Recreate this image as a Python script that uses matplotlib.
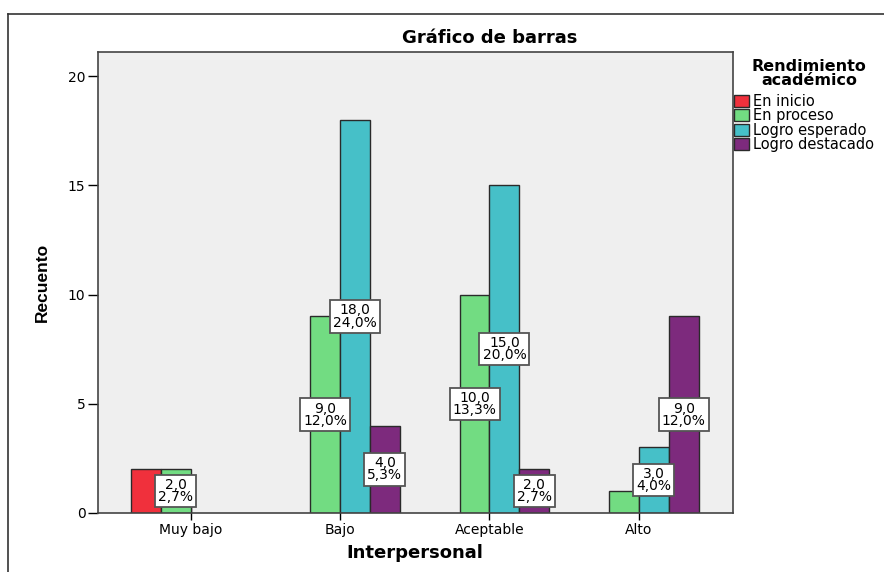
import numpy as np
import matplotlib
matplotlib.use("Agg")
from matplotlib import pyplot as plt
from matplotlib.lines import Line2D

plt.rcParams["font.family"] = ["DejaVu Sans"]

categorias = ["Muy bajo", "Bajo", "Aceptable", "Alto"]
series = ["En inicio", "En proceso", "Logro esperado", "Logro destacado"]
en_inicio = [2, 0, 0, 0]
en_proceso = [2, 9, 10, 1]
logro_esperado = [0, 18, 15, 3]
logro_destacado = [0, 4, 2, 9]
valores = [en_inicio, en_proceso, logro_esperado, logro_destacado]
# which bars get a value box (series index, category index)
etiquetadas = [(1, 0), (1, 1), (2, 1), (3, 1), (1, 2), (2, 2), (3, 2), (2, 3), (3, 3)]
colores = ["#F0303C", "#72DC82", "#46C0C8", "#7D2A7D"]

total = sum(sum(v) for v in valores)

fig = plt.figure(figsize=(8.84, 5.72), dpi=100)
ax = fig.add_axes([98 / 884, 1 - 513 / 572, 635 / 884, 461 / 572])
ax.set_facecolor("#EFEFEF")

x = np.arange(len(categorias))
w = 0.2
offs = [-0.3, -0.1, 0.1, 0.3]
for i, s in enumerate(series):
    v = np.array(valores[i])
    mask = v > 0
    ax.bar(x[mask] + offs[i], v[mask], width=w, color=colores[i],
           edgecolor="#2A2A2A", linewidth=1.0, label=s, zorder=2)

for i, j in etiquetadas:
    v = valores[i][j]
    txt = "{:.1f}\n{:.1f}%".format(v, 100 * v / total).replace(".", ",")
    ax.text(x[j] + offs[i], v / 2, txt, ha="center", va="center", fontsize=10,
            linespacing=0.85, zorder=4,
            bbox=dict(boxstyle="square,pad=0.22", fc="white", ec="#555555", lw=1.3))

ax.set_xlim(-0.62, 3.63)
ax.set_ylim(0, 21.1)
ax.set_yticks([0, 5, 10, 15, 20])
ax.set_xticks(x)
ax.set_xticklabels(categorias)
ax.tick_params(axis="y", direction="out", length=7, width=1, labelsize=10, pad=2)
ax.tick_params(axis="x", direction="inout", length=10, width=1, labelsize=10, pad=2)
for sp in ax.spines.values():
    sp.set_color("#444444")
    sp.set_linewidth(1.2)

fig.text(415 / 884, 1 - 553 / 572, "Interpersonal", ha="center", va="center",
         fontsize=13, fontweight="bold")
fig.text(42 / 884, 1 - 282 / 572, "Recuento", ha="center", va="center", rotation=90,
         fontsize=12.5, fontweight="bold", family=["Liberation Sans", "DejaVu Sans"])
fig.text(490 / 884, 1 - 38 / 572, "Gráfico de barras", ha="center", va="center",
         fontsize=13, fontweight="bold")

fig.text(809 / 884, 1 - 73.5 / 572, "Rendimiento\nacadémico", ha="center", va="center",
         multialignment="center", fontsize=11.5, fontweight="bold", linespacing=0.85)
leg = fig.legend(loc="upper left", bbox_to_anchor=(734 / 884, 1 - 94 / 572),
                 frameon=False, fontsize=10.5,
                 handlelength=1.0, handleheight=0.9, handletextpad=0.3,
                 labelspacing=-0.04, borderaxespad=0, borderpad=0)

# outer frame of the output viewer
fig.add_artist(Line2D([8 / 884, 8 / 884], [0, 1 - 14 / 572], color="#333333", lw=1.2))
fig.add_artist(Line2D([8 / 884, 1], [1 - 14 / 572, 1 - 14 / 572], color="#333333", lw=1.2))

fig.savefig("out.png", dpi=100)
